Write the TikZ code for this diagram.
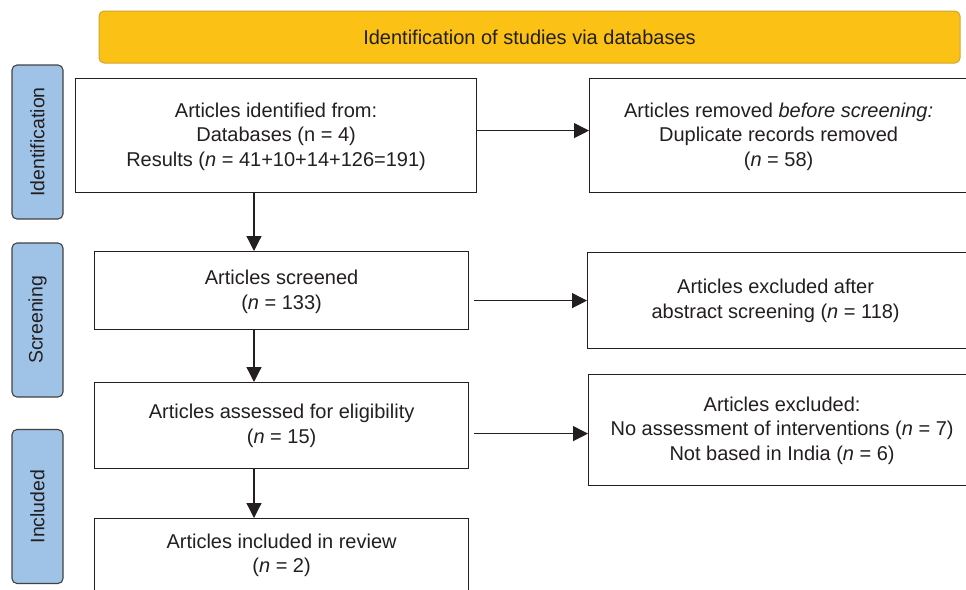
\documentclass[tikz,border=0pt]{standalone}
\usepackage{fontspec}
\setmainfont{Liberation Sans}
\usetikzlibrary{arrows.meta}
\definecolor{bannerfill}{HTML}{FBC115}
\definecolor{bannerdraw}{HTML}{D2A530}
\definecolor{sidefill}{HTML}{9FC3E7}
\definecolor{inkc}{HTML}{231F20}
\begin{document}
\begin{tikzpicture}[x=1pt,y=-1pt,
  box/.style={draw=inkc, line width=1.2pt, fill=white, inner sep=0pt, anchor=north west},
  txt/.style={align=center, text=inkc, font=\fontsize{20}{24.5}\selectfont, inner sep=0pt},
  side/.style={draw=inkc!85, line width=1.1pt, fill=sidefill, rounded corners=5pt,
    text=inkc, font=\fontsize{19.5}{24}\selectfont, inner sep=0pt, rotate=90,
    minimum height=51pt, minimum width=154pt},
  arr/.style={draw=inkc, line width=1.2pt, -{Triangle[width=15pt,length=15pt]}}]
\clip (0,0) rectangle (966,589);
\fill[white] (0,0) rectangle (966,589);
% banner
\node[draw=bannerdraw, line width=1pt, fill=bannerfill, rounded corners=5pt,
  minimum width=861pt, minimum height=52pt, inner sep=0pt, text=inkc,
  font=\fontsize{20}{24}\selectfont] (banner) at (529.5,37) {Identification of studies via databases};
% side labels
\node[side] (sid) at (37.5,142) {Identification};
\node[side] (sscr) at (37.5,320) {Screening};
\node[side] (sinc) at (37.5,506.5) {Included};
% main boxes
\node[box, minimum width=401pt, minimum height=114pt] (b1) at (75,78) {};
\node[txt] (t1) at ([yshift=-1pt]b1.center) {Articles identified from:\\Databases (n = 4)\\Results (\textit{n} = 41+10+14+126=191)};
\node[box, minimum width=382pt, minimum height=114pt] (b2) at (589,78) {};
\node[txt] (t2) at ([xshift=-2pt,yshift=-1pt]b2.center) {Articles removed \textit{before screening:}\\Duplicate records removed\\(\textit{n} = 58)};
\node[box, minimum width=374pt, minimum height=78pt] (b3) at (94,251) {};
\node[txt] (t3) at ([yshift=-1pt]b3.center) {Articles screened\\(\textit{n} = 133)};
\node[box, minimum width=384pt, minimum height=96pt] (b4) at (587,252) {};
\node[txt] (t4) at ([xshift=-4pt]b4.center) {Articles excluded after\\abstract screening (\textit{n} = 118)};
\node[box, minimum width=374pt, minimum height=86pt] (b5) at (94,382) {};
\node[txt] (t5) at ([yshift=0pt]b5.center) {Articles assessed for eligibility\\(\textit{n} = 15)};
\node[box, minimum width=383pt, minimum height=111pt] (b6) at (588,374) {};
\node[txt] (t6) at ([xshift=2pt,yshift=-0.5pt]b6.center) {Articles excluded:\\No assessment of interventions (\textit{n} = 7)\\Not based in India (\textit{n} = 6)};
\node[box, minimum width=374pt, minimum height=73pt] (b7) at (94,518) {};
\node[txt] (t7) at ([yshift=0pt]b7.center) {Articles included in review\\(\textit{n} = 2)};
% connectors
\coordinate (ax) at (254,0);
\draw[arr] (ax |- b1.south) -- (ax |- b3.north);
\draw[arr] (ax |- b3.south) -- (ax |- b5.north);
\draw[arr] (ax |- b5.south) -- (ax |- b7.north);
\draw[arr] ([yshift=5pt]b1.east) -- ([yshift=5pt]b1.east -| b2.west);
\draw[arr, shorten <=5pt] (b3.east |- b4.west) -- (b4.west);
\draw[arr, shorten <=5pt] ([yshift=-8pt]b5.east) -- ([yshift=-8pt]b5.east -| b6.west);
\end{tikzpicture}
\end{document}
